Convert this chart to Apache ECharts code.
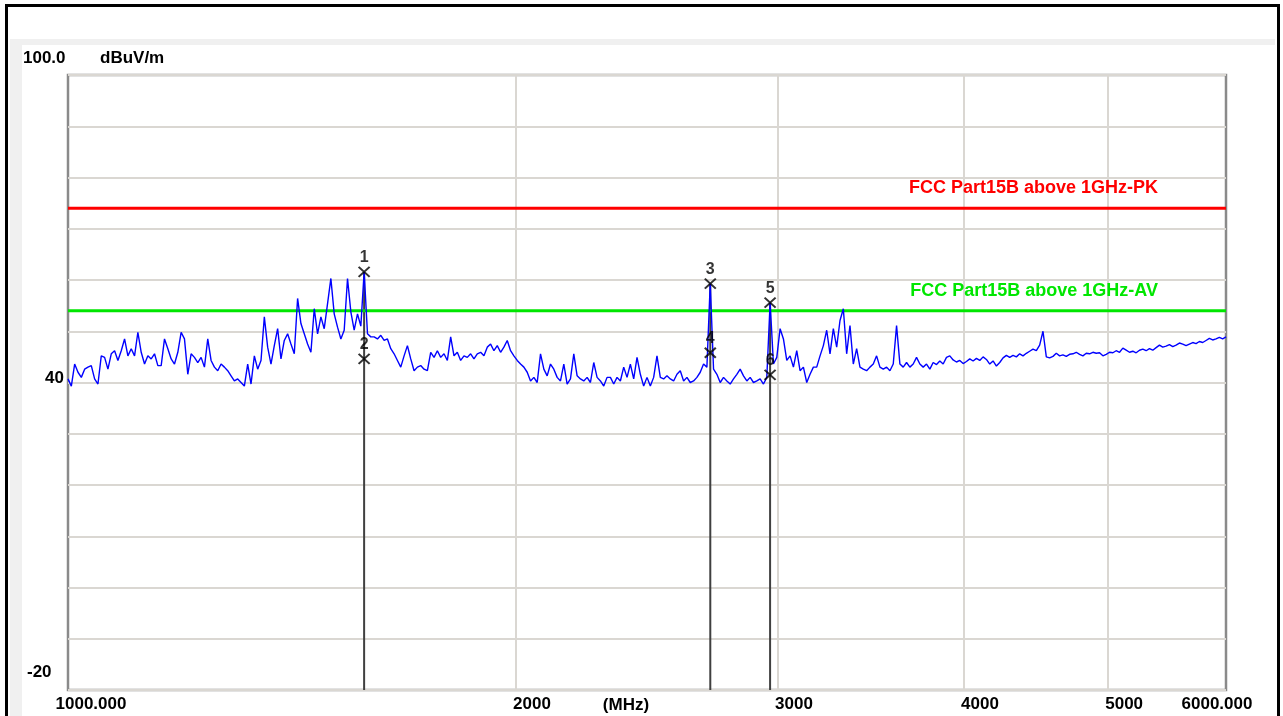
<!DOCTYPE html>
<html>
<head>
    <meta charset="UTF-8">
    <title>FCC Part15B above 1GHz</title>
    <script src="https://cdn.jsdelivr.net/npm/echarts@6/dist/echarts.min.js"></script>
    <style>
        html, body { margin: 0; padding: 0; width: 1283px; height: 716px; overflow: hidden; background: #fff; }
        .frame { position: absolute; left: 5px; top: 4px; width: 1269px; height: 760px; border: 3px solid #000; }
        .panel { position: absolute; left: 10px; top: 39px; width: 1265px; height: 700px; background: #f0f0f0; }
        .paper { position: absolute; left: 22px; top: 45px; width: 1253px; height: 700px; background: #fff; }
        #main { position: absolute; left: 0; top: 0; width: 1283px; height: 716px; }
    </style>
</head>
<body>
<div class="frame"></div>
<div class="panel"></div>
<div class="paper"></div>
<div id="main"></div>
<script type="text/javascript">
    // 扫描范围 (MHz)，扫描点在对数轴上等距
    var startFreq = 1000;
    var stopFreq = 6000;

    // 峰值迹线 dBuV/m，从图上逐点读出
    var peakLevels = [
        40.7, 39.3, 43.6, 42.0, 41.0, 42.6, 43.0, 43.3, 40.7, 39.7,
        45.2, 44.9, 42.6, 45.6, 46.2, 44.3, 46.2, 48.5, 45.2, 46.6,
        45.2, 49.8, 45.9, 43.6, 45.2, 44.6, 45.6, 43.3, 43.3, 48.5,
        46.6, 44.6, 43.6, 45.9, 49.8, 48.5, 41.6, 45.6, 44.9, 43.9,
        44.9, 43.0, 48.5, 44.3, 43.0, 42.3, 43.6, 43.0, 42.3, 41.3,
        40.3, 40.7, 40.0, 39.3, 43.6, 39.7, 45.2, 42.6, 44.3, 52.8,
        46.9, 43.6, 47.2, 50.5, 44.6, 48.2, 49.5, 47.5, 45.6, 56.4,
        51.5, 49.5, 47.5, 45.9, 54.4, 49.5, 52.8, 50.5, 55.4, 60.3,
        53.4, 50.8, 48.5, 50.2, 60.3, 53.8, 50.2, 53.4, 51.0, 61.6,
        49.5, 48.9, 48.9, 48.5, 49.2, 48.2, 48.5, 46.6, 45.6, 44.3,
        43.0, 45.2, 47.2, 44.6, 42.3, 43.0, 43.3, 42.6, 42.3, 45.9,
        44.9, 46.2, 44.9, 45.6, 44.3, 48.9, 45.2, 45.9, 44.3, 45.2,
        44.9, 45.6, 44.6, 45.6, 45.9, 45.2, 46.9, 47.5, 46.2, 47.2,
        45.9, 46.9, 48.2, 46.2, 45.2, 44.3, 43.6, 43.0, 42.0, 40.3,
        41.0, 40.0, 45.6, 42.6, 41.3, 43.6, 42.6, 41.0, 40.3, 43.6,
        39.7, 40.7, 45.6, 41.3, 40.7, 40.3, 41.0, 40.0, 43.9, 41.0,
        40.3, 39.3, 41.0, 41.0, 39.7, 41.0, 40.3, 43.0, 41.0, 43.6,
        40.7, 44.9, 41.6, 39.3,
        41.0, 39.3, 41.0, 45.2, 41.0, 40.7, 41.3, 40.7, 40.3, 41.6,
        42.3, 40.3, 41.0, 40.0, 40.3, 41.0, 42.0, 43.6, 43.0, 59.3,
        42.6, 41.6, 40.0, 41.0, 40.3, 39.7, 40.7, 41.6, 42.6, 41.3,
        40.3, 41.0, 40.0, 40.3, 40.7, 39.7, 41.0, 55.6, 43.6, 44.9,
        50.5, 48.5, 44.3, 45.2, 43.0, 46.2, 42.3, 43.0, 40.0, 41.6,
        43.0, 43.0, 45.2, 47.2, 50.2, 45.6, 50.5, 46.9, 52.1, 54.4,
        45.6, 51.1, 43.6, 46.6, 43.0, 42.6, 42.3, 43.0, 43.6, 45.2,
        43.0, 42.6, 43.0, 42.3, 43.6, 51.1, 43.6, 43.0, 43.9, 43.0,
        43.6, 44.9, 43.6, 43.0, 43.6, 42.6,
        43.9, 43.5, 44.2, 43.6, 44.9, 45.2, 44.4, 44.0, 44.3, 43.7,
        44.1, 44.6, 44.2, 44.7, 44.3, 45.0, 44.5, 43.6, 44.2, 43.2,
        43.9, 44.8, 45.3, 44.9, 45.3, 45.0, 45.6, 45.2, 45.7, 46.1,
        46.5, 46.2, 47.3, 50.0, 45.0, 44.8, 45.1, 45.7, 45.2, 45.4,
        45.1, 45.5, 45.6, 45.9, 45.5, 45.2, 45.7, 45.6, 45.9, 45.7,
        45.8, 45.2, 45.5, 45.9, 45.8, 46.2, 45.9, 46.7, 46.3, 45.9,
        46.1, 45.8, 46.3, 46.5, 46.2, 46.6, 46.3, 46.8, 47.3, 46.9,
        47.1, 47.4, 47.0, 47.3, 47.7, 47.5, 47.2, 47.5, 47.8, 47.6,
        48.0, 47.8, 48.2, 48.6, 48.3, 48.5, 48.8, 48.5, 48.9
    ];

    // 限值线
    var limitNames = ['FCC Part15B above 1GHz-PK', 'FCC Part15B above 1GHz-AV'];
    var limitLevels = [74, 54];
    var limitColors = ['#ff0000', '#00e600'];

    // 标记点
    var markerNos = ['1', '2', '3', '4', '5', '6'];
    var markerFreqs = [1581.2, 1581.2, 2701.5, 2701.5, 2963.4, 2963.4];
    var markerLevels = [61.6, 44.6, 59.3, 45.8, 55.6, 41.5];

    // 坐标轴刻度
    var freqGrid = [2000, 3000, 4000, 5000];
    var freqLabels = [1000, 2000, 3000, 4000, 5000, 6000];
    var yMin = -20, yMax = 100, yStep = 10;

    var xMin = Math.log10(startFreq);
    var xMax = Math.log10(stopFreq);
    var font = "'Liberation Sans', Arial, sans-serif";

    var traceData = [];
    for (var i = 0; i < peakLevels.length; i++) {
        var f = startFreq * Math.pow(stopFreq / startFreq, i / (peakLevels.length - 1));
        traceData.push([Math.log10(f), peakLevels[i]]);
    }

    var series = [];

    // 标记竖线 (画到底边)
    for (var m = 0; m < markerFreqs.length; m += 2) {
        series.push({
            type: 'line',
            silent: true,
            z: 2,
            symbol: 'none',
            lineStyle: { color: '#404040', width: 2 },
            data: [[Math.log10(markerFreqs[m]), yMin], [Math.log10(markerFreqs[m]), markerLevels[m]]]
        });
    }

    // 限值线
    for (var k = 0; k < limitLevels.length; k++) {
        series.push({
            type: 'line',
            silent: true,
            z: 3,
            symbol: 'none',
            lineStyle: { color: limitColors[k], width: 3 },
            endLabel: {
                show: true,
                formatter: limitNames[k],
                align: 'right',
                distance: 0,
                offset: [-68, -20],
                color: limitColors[k],
                fontFamily: font,
                fontWeight: 'bold',
                fontSize: 18
            },
            data: [[xMin, limitLevels[k]], [xMax, limitLevels[k]]]
        });
    }

    // 峰值迹线
    series.push({
        type: 'line',
        silent: true,
        z: 4,
        symbol: 'none',
        lineStyle: { color: '#0000ff', width: 1.4 },
        data: traceData
    });

    // 标记 X
    var markerData = [];
    for (var n = 0; n < markerFreqs.length; n++) {
        markerData.push({ value: [Math.log10(markerFreqs[n]), markerLevels[n]], name: markerNos[n] });
    }
    series.push({
        type: 'scatter',
        silent: true,
        z: 5,
        symbol: 'path://M0,0L10,10M10,0L0,10',
        symbolSize: [11, 10],
        itemStyle: { color: 'rgba(0,0,0,0)', borderColor: '#000', borderWidth: 2 },
        label: {
            show: true,
            position: 'top',
            distance: 0,
            formatter: '{b}',
            color: '#000',
            fontFamily: font,
            fontWeight: 'bold',
            fontSize: 16
        },
        data: markerData
    });

    function richText(size, pad) {
        return { fontFamily: font, fontWeight: 'bold', fontSize: size, color: '#000', padding: pad };
    }

    var myChart = echarts.init(document.getElementById('main'));
    myChart.setOption({
        animation: false,
        grid: {
            left: 68, top: 75, right: 57, bottom: 26,
            outerBoundsMode: 'none',
            containLabel: false,
            show: true,
            borderColor: '#8a8a8a',
            borderWidth: 2.5,
            backgroundColor: 'rgba(0,0,0,0)'
        },
        xAxis: {
            type: 'value',
            min: xMin,
            max: xMax,
            name: '(MHz)',
            nameLocation: 'middle',
            nameGap: 7,
            nameMoveOverlap: false,
            nameTextStyle: {
                fontFamily: font, fontWeight: 'bold', fontSize: 17, color: '#000',
                padding: [0, 42, 0, 0], verticalAlign: 'top'
            },
            axisLine: { show: false },
            axisTick: { show: false, customValues: freqGrid.map(Math.log10) },
            splitLine: { show: true, lineStyle: { color: '#dad7d2', width: 2 } },
            axisLabel: {
                customValues: freqLabels.map(Math.log10),
                margin: 6,
                formatter: function (v) {
                    var f = Math.round(Math.pow(10, v));
                    if (f === startFreq) return '{first|' + f + '.000}';
                    if (f === stopFreq) return '{last|' + f + '.000}';
                    return '{mid|' + f + '}';
                },
                rich: {
                    first: richText(17, [0, 0, 0, 46]),
                    last: richText(17, [0, 18, 0, 0]),
                    mid: richText(17, [0, 0, 0, 32])
                }
            }
        },
        yAxis: {
            type: 'value',
            min: yMin,
            max: yMax,
            interval: yStep,
            name: 'dBuV/m',
            nameLocation: 'end',
            nameGap: 17,
            nameTextStyle: {
                fontFamily: font, fontWeight: 'bold', fontSize: 17, color: '#000',
                align: 'left', verticalAlign: 'middle', padding: [0, 0, 0, 32]
            },
            axisLine: { show: false },
            axisTick: { show: false },
            splitLine: { show: true, lineStyle: { color: '#dad7d2', width: 2 } },
            axisLabel: {
                margin: 45,
                align: 'left',
                formatter: function (v) {
                    if (v === 100) return '{top|100.0}';
                    if (v === 40) return '{mid|40}';
                    if (v === -20) return '{bot|-20}';
                    return '';
                },
                rich: {
                    top: richText(17, [0, 0, 34, 0]),
                    mid: richText(17, [0, 0, 8, 22]),
                    bot: richText(17, [0, 0, 36, 4])
                }
            }
        },
        series: series
    });
</script>
</body>
</html>
